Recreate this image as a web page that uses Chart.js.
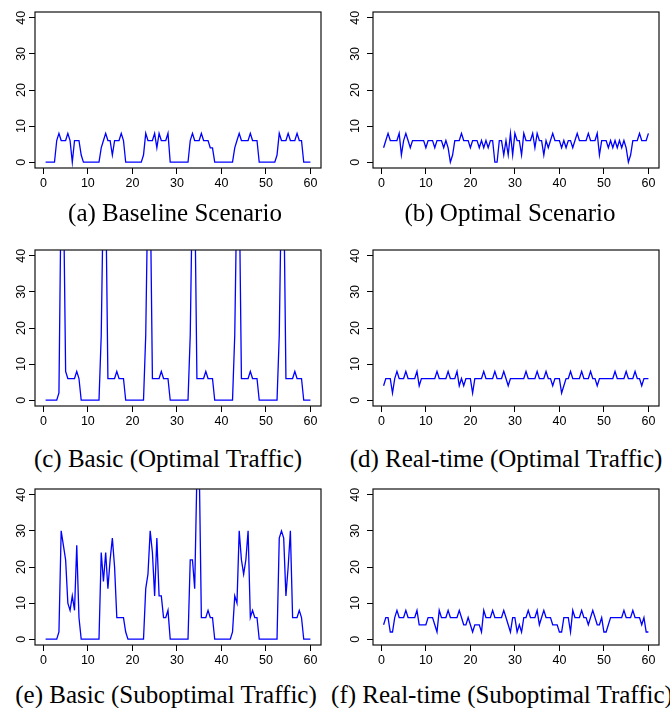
<!DOCTYPE html>
<html>
<head>
<meta charset="utf-8">
<script src="https://cdn.jsdelivr.net/npm/chart.js@4.4.1/dist/chart.umd.min.js"></script>
<style>
  html, body { margin: 0; padding: 0; background: #fff; }
  body { width: 670px; height: 708px; position: relative; overflow: hidden; }
  canvas { position: absolute; }
  .cap { position: absolute; font-family: "Liberation Serif", "Times New Roman", serif; font-size: 25px; line-height: 26px; white-space: nowrap; transform: translateX(-50%); color: #000; }
</style>
</head>
<body>
<canvas id="pa" width="335" height="200" style="left:0px;top:0px"></canvas>
<canvas id="pb" width="335" height="200" style="left:335px;top:0px"></canvas>
<canvas id="pc" width="335" height="200" style="left:0px;top:238px"></canvas>
<canvas id="pd" width="335" height="200" style="left:335px;top:238px"></canvas>
<canvas id="pe" width="335" height="200" style="left:0px;top:477px"></canvas>
<canvas id="pf" width="335" height="200" style="left:335px;top:477px"></canvas>
<div class="cap" id="ca" style="left:175px;top:200px"></div>
<div class="cap" id="cb" style="left:510px;top:200px"></div>
<div class="cap" id="cc" style="left:168px;top:446px"></div>
<div class="cap" id="cd" style="left:506px;top:446px"></div>
<div class="cap" id="ce" style="left:166px;top:682px"></div>
<div class="cap" id="cf" style="left:502px;top:682px"></div>
<script>
// ---- data ----
const timeSteps = [
  0.5,1,1.5,2,2.5,3,3.5,4,4.5,5,5.5,6,6.5,7,7.5,8,8.5,9,9.5,10,
  10.5,11,11.5,12,12.5,13,13.5,14,14.5,15,15.5,16,16.5,17,17.5,18,18.5,19,19.5,20,
  20.5,21,21.5,22,22.5,23,23.5,24,24.5,25,25.5,26,26.5,27,27.5,28,28.5,29,29.5,30,
  30.5,31,31.5,32,32.5,33,33.5,34,34.5,35,35.5,36,36.5,37,37.5,38,38.5,39,39.5,40,
  40.5,41,41.5,42,42.5,43,43.5,44,44.5,45,45.5,46,46.5,47,47.5,48,48.5,49,49.5,50,
  50.5,51,51.5,52,52.5,53,53.5,54,54.5,55,55.5,56,56.5,57,57.5,58,58.5,59,59.5,60
];

const baselineScenario = [
  0,0,0,0,0, 6,8,6,6,6, 8,6,0,6,6, 6,2,0,0,0,
  0,0,0,0,0, 4,6,8,6,6, 2,6,6,6,8, 6,0,0,0,0,
  0,0,0,0,2, 8,6,6,6,8, 4,8,6,6,6, 8,0,0,0,0,
  0,0,0,0,0, 6,8,6,6,6, 8,6,6,6,4, 4,0,0,0,0,
  0,0,0,0,0, 4,6,8,6,6, 6,6,8,6,6, 6,0,0,0,0,
  0,0,0,0,2, 8,6,6,6,8, 6,6,6,8,6, 6,0,0,0,0
];

const optimalScenario = [
  4,6,8,6,6, 6,6,8,2,6, 8,6,4,6,6, 6,6,6,6,4,
  6,6,6,4,6, 6,6,4,6,4, 0,2,6,6,6, 8,6,6,6,4,
  6,6,6,4,6, 4,6,4,6,6, 0,0,6,6,2, 6,2,8,2,8,
  6,6,2,8,6, 6,6,8,4,8, 6,6,2,6,4, 6,8,6,6,6,
  4,6,4,6,6, 4,6,8,6,6, 6,6,8,6,6, 6,8,2,6,6,
  6,4,6,4,6, 4,6,4,6,4, 0,2,6,6,6, 8,6,6,6,8
];

const basicOptimalTraffic = [
  0,0,0,0,0, 0,2,60,60,8, 6,6,6,6,8, 6,0,0,0,0,
  0,0,0,0,0, 18,60,60,6,6, 6,6,8,6,6, 6,0,0,0,0,
  0,0,0,0,0, 18,60,60,6,6, 6,6,8,6,6, 6,0,0,0,0,
  0,0,0,0,0, 18,60,60,6,6, 6,6,8,6,6, 6,0,0,0,0,
  0,0,0,0,0, 18,60,60,6,6, 6,6,8,6,6, 6,0,0,0,0,
  0,0,0,0,0, 18,60,60,6,6, 6,6,8,6,6, 6,0,0,0,0
];

const realtimeOptimalTraffic = [
  4,6,6,6,2, 6,8,6,6,6, 8,6,6,6,6, 8,4,6,6,6,
  6,6,6,6,8, 6,6,6,6,8, 6,6,6,8,4, 6,4,6,6,6,
  2,6,6,6,6, 8,6,6,6,6, 8,6,6,6,8, 6,4,6,6,6,
  6,6,6,6,8, 6,6,6,6,8, 6,6,6,8,6, 6,4,6,6,6,
  2,4,6,6,8, 6,6,6,6,8, 6,6,6,8,6, 6,4,6,6,6,
  6,6,6,6,8, 6,6,6,6,8, 6,6,6,8,6, 6,4,6,6,6
];

const basicSuboptimalTraffic = [
  0,0,0,0,0, 0,2,30,26,22, 10,8,12,8,26, 6,0,0,0,0,
  0,0,0,0,0, 24,16,24,14,22, 28,20,6,6,6, 6,2,0,0,0,
  0,0,0,0,0, 14,18,30,24,12, 28,12,12,6,6, 8,0,0,0,0,
  0,0,0,0,0, 22,22,14,46,50, 6,6,6,8,6, 6,0,0,0,0,
  0,0,0,0,2, 12,10,30,22,18, 22,30,6,8,6, 6,0,0,0,0,
  0,0,0,0,0, 28,30,28,12,20, 30,6,6,6,8, 6,0,0,0,0
];

const realtimeSuboptimalTraffic = [
  4,6,6,2,2, 6,8,6,6,6, 8,6,6,6,6, 8,4,4,4,4,
  6,6,6,4,2, 8,6,6,6,8, 6,6,6,6,8, 6,4,4,6,4,
  2,4,4,4,2, 8,6,6,6,8, 6,6,6,6,8, 6,4,2,6,6,
  2,4,2,6,6, 8,6,6,6,8, 4,6,8,6,6, 6,4,4,4,2,
  2,6,6,6,2, 8,6,6,6,8, 6,6,4,6,8, 6,4,4,6,2,
  2,4,6,6,6, 6,6,6,8,6, 6,6,8,6,6, 6,4,6,2,2
];

const xTickValues = [0, 10, 20, 30, 40, 50, 60];
const xTickLabels = ['0', '10', '20', '30', '40', '50', '60'];
const yTickValues = [0, 10, 20, 30, 40];
const yTickLabels = ['0', '10', '20', '30', '40'];

const captions = [
  '(a) Baseline Scenario',
  '(b) Optimal Scenario',
  '(c) Basic (Optimal Traffic)',
  '(d) Real-time (Optimal Traffic)',
  '(e) Basic (Suboptimal Traffic)',
  '(f) Real-time (Suboptimal Traffic)'
];

// ---- axis limits (R-style 4% expansion) ----
const X_MIN = -1.88, X_MAX = 62.38;
const Y_MIN = -1.6, Y_MAX = 41.6;

const TICK_FONT = { family: 'Liberation Sans', size: 12.5 };

const framePlugin = {
  id: 'frame',
  afterDraw(chart, args, opts) {
    const { ctx, chartArea: a, scales } = chart;
    ctx.save();
    ctx.strokeStyle = '#111';
    ctx.lineWidth = 1.2;
    ctx.strokeRect(a.left, a.top, a.right - a.left, a.bottom - a.top);
    const ys = scales.y;
    ctx.fillStyle = '#000';
    ctx.font = TICK_FONT.size + 'px "' + TICK_FONT.family + '"';
    ctx.textAlign = 'center';
    ctx.textBaseline = 'alphabetic';
    yTickValues.forEach((v, i) => {
      const py = ys.getPixelForValue(v);
      ctx.save();
      ctx.translate(a.left - opts.gap, py);
      ctx.rotate(-Math.PI / 2);
      ctx.fillText(yTickLabels[i], 0, 0);
      ctx.restore();
    });
    ctx.restore();
  }
};

function makePanel(id, values, col) {
  const yw = col === 0 ? 35 : 38;
  const padRight = col === 0 ? 14 : 11;
  const gap = col === 0 ? 10.5 : 14;
  const points = timeSteps.map((t, i) => ({ x: t, y: values[i] }));
  const gridOpts = { display: true, drawOnChartArea: false, drawTicks: true, tickLength: 6, color: '#000', lineWidth: 1 };
  new Chart(document.getElementById(id), {
    type: 'line',
    data: {
      datasets: [{
        data: points,
        borderColor: '#0000ff',
        borderWidth: 1.3,
        pointRadius: 0,
        tension: 0,
        fill: false
      }]
    },
    options: {
      responsive: false,
      animation: false,
      devicePixelRatio: 1,
      layout: { padding: { left: 0, right: padRight, top: 12, bottom: 0 } },
      plugins: { legend: { display: false }, tooltip: { enabled: false }, frame: { gap: gap } },
      scales: {
        x: {
          type: 'linear', min: X_MIN, max: X_MAX,
          afterBuildTicks: s => { s.ticks = xTickValues.map(v => ({ value: v })); },
          afterFit: s => { s.height = 32; },
          grid: gridOpts,
          border: { display: false },
          ticks: {
            font: TICK_FONT, color: '#000', padding: 2, maxRotation: 0, minRotation: 0, autoSkip: false,
            callback: (v, i) => xTickLabels[i]
          }
        },
        y: {
          type: 'linear', min: Y_MIN, max: Y_MAX,
          afterBuildTicks: s => { s.ticks = yTickValues.map(v => ({ value: v })); },
          afterFit: s => { s.width = yw; },
          grid: gridOpts,
          border: { display: false },
          ticks: { display: false }
        }
      }
    },
    plugins: [framePlugin]
  });
}

makePanel('pa', baselineScenario, 0);
makePanel('pb', optimalScenario, 1);
makePanel('pc', basicOptimalTraffic, 0);
makePanel('pd', realtimeOptimalTraffic, 1);
makePanel('pe', basicSuboptimalTraffic, 0);
makePanel('pf', realtimeSuboptimalTraffic, 1);

['ca', 'cb', 'cc', 'cd', 'ce', 'cf'].forEach((id, i) => {
  document.getElementById(id).textContent = captions[i];
});
</script>
</body>
</html>
